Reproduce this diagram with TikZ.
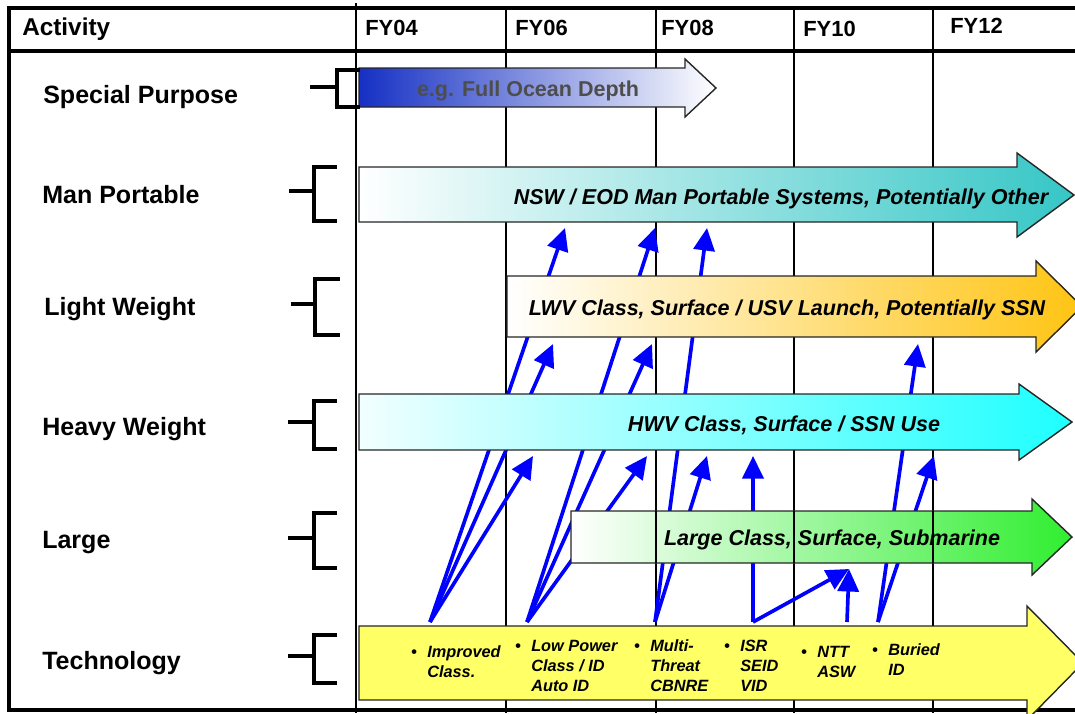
\documentclass[tikz,border=0pt]{standalone}
\usepackage{fontspec}
\setmainfont{Liberation Sans}
\usetikzlibrary{arrows.meta}
\definecolor{rblue}{HTML}{0000FF}
\definecolor{spblue}{HTML}{1530C4}
\definecolor{spgray}{HTML}{4D4D4D}
\definecolor{mpteal}{HTML}{36C6C6}
\definecolor{lwpeach}{HTML}{FCE7C4}
\definecolor{lwgold}{HTML}{FFC412}
\definecolor{hwcyan}{HTML}{1EFFFF}
\definecolor{lggreen}{HTML}{30EE30}
\definecolor{tcyellow}{HTML}{FFFF66}
\tikzset{
  gridln/.style={draw=black,line width=1.1pt},
  tblframe/.style={draw=black,line width=2.3pt},
  brk/.style={draw=black,line width=2.2pt},
  band/.style={draw=black!85,line width=1pt},
  link/.style={-{Triangle[length=16pt,width=15pt]},line width=2.6pt,draw=rblue},
  hdr/.style={font=\fontsize{15.6}{18}\selectfont\bfseries,anchor=base west,inner sep=0pt},
  rowlbl/.style={font=\fontsize{17.8}{20}\selectfont\bfseries,anchor=base west,inner sep=0pt},
  btxt/.style={font=\fontsize{15.3}{18}\selectfont\bfseries\itshape,anchor=base,inner sep=0pt},
  tech/.style={font=\fontsize{11.6}{13.9}\selectfont\bfseries\itshape,anchor=base west,inner sep=0pt,align=left},
}

\begin{document}
\begin{tikzpicture}[x=0.025cm,y=-0.025cm]
  \path[use as bounding box] (0,0) rectangle (1075,713);
  \clip (0,0) rectangle (1075,713);
  % grid and frame
  \draw[gridln] (356,3) -- (356,713);
  \foreach \x in {506,656,794,933} \draw[gridln] (\x,8) -- (\x,713);
  \draw[tblframe] (1080,8) -- (9,8) -- (9,710) -- (1080,710);
  \draw[tblframe] (9,51) -- (1080,51);
  \node[hdr,font=\fontsize{17.3}{20}\selectfont\bfseries] (hact) at (22,35) {Activity};
  \node[hdr] (h04) at (365,35) {FY04};
  \node[hdr] (h06) at (515,35) {FY06};
  \node[hdr] (h08) at (661,35) {FY08};
  \node[hdr] (h10) at (803,36) {FY10};
  \node[hdr] (h12) at (950,33) {FY12};
  \node[rowlbl] (rsp) at (43,103) {Special Purpose};
  \node[rowlbl] (rmp) at (42,203) {Man Portable};
  \node[rowlbl] (rlw) at (44,315) {Light Weight};
  \node[rowlbl] (rhw) at (42,435) {Heavy Weight};
  \node[rowlbl] (rlg) at (42,548) {Large};
  \node[rowlbl] (rtc) at (42,669) {Technology};
  % technology items feed the vehicle classes
  \coordinate (imp) at (430,622);
  \coordinate (lowp) at (527,622);
  \coordinate (mult) at (655,622);
  \coordinate (isr) at (753,622);
  \coordinate (ntt) at (847,622);
  \coordinate (bur) at (878,622);
  \coordinate (mp1) at (565,228); \coordinate (mp2) at (655,228); \coordinate (mp3) at (707,228);
  \coordinate (lw1) at (553,344); \coordinate (lw2) at (652,344); \coordinate (lw3) at (918,344);
  \coordinate (hw1) at (533,456); \coordinate (hw2) at (647,456); \coordinate (hw3) at (707,456);
  \coordinate (hw4) at (753,456); \coordinate (hw5) at (934,456);
  \coordinate (lg1) at (849,569);
  \draw[link] (imp) -- (mp1); \draw[link] (imp) -- (lw1); \draw[link] (imp) -- (hw1);
  \draw[link] (lowp) -- (mp2); \draw[link] (lowp) -- (lw2); \draw[link] (lowp) -- (hw2);
  \draw[link] (mult) -- (mp3); \draw[link] (mult) -- (hw3);
  \draw[link] (isr) -- (hw4); \draw[link] (isr) -- (lg1);
  \draw[link] (ntt) -- (lg1);
  \draw[link] (bur) -- (lw3); \draw[link] (bur) -- (hw5);
  % class arrows
  \draw[band,left color=spblue,middle color=spblue!40!white,right color=white]
    (359,68) -- (685,68) -- (685,59) -- (716,88) -- (685,117) -- (685,107) -- (359,107) -- cycle;
  \draw[band,left color=white,middle color=mpteal!40!white,right color=mpteal]
    (359,167) -- (1017,167) -- (1017,153) -- (1074,195) -- (1017,237) -- (1017,222) -- (359,222) -- cycle;
  \draw[band,left color=white,middle color=lwpeach,right color=lwgold]
    (507,276) -- (1036,276) -- (1036,261) -- (1082,306.5) -- (1036,352) -- (1036,337) -- (507,337) -- cycle;
  \draw[band,left color=hwcyan!6!white,middle color=hwcyan!40!white,right color=hwcyan]
    (359,394) -- (1019,394) -- (1019,384) -- (1072,422) -- (1019,460) -- (1019,450) -- (359,450) -- cycle;
  \draw[band,left color=white,middle color=lggreen!30!white,right color=lggreen]
    (571,511) -- (1032,511) -- (1032,499) -- (1072,537) -- (1032,575) -- (1032,563) -- (571,563) -- cycle;
  \foreach \x in {656,794,933} \draw[gridln] (\x,511) -- (\x,563);
  \draw[band,fill=tcyellow]
    (359,626) -- (1027,626) -- (1027,606) -- (1083,663) -- (1027,720) -- (1027,700) -- (359,700) -- cycle;
  % brackets
  \draw[brk] (310,87) -- (337,87) (360,70) -- (337,70) -- (337,107) -- (360,107);
  \draw[brk] (289,191) -- (314,191) (337,167) -- (314,167) -- (314,221) -- (337,221);
  \draw[brk] (291,304) -- (315,304) (340,279) -- (315,279) -- (315,335) -- (340,335);
  \draw[brk] (288,422) -- (314,422) (337,401) -- (314,401) -- (314,449) -- (337,449);
  \draw[brk] (288,538) -- (314,538) (337,513) -- (314,513) -- (314,568) -- (337,568);
  \draw[brk] (288,656) -- (314,656) (337,635) -- (314,635) -- (314,683) -- (337,683);
  % arrow texts
  \node[btxt,font=\fontsize{15.3}{18}\selectfont\bfseries,text=spgray] (tsp) at (528,96) {e.g. Full Ocean Depth};
  \node[btxt] (tmp) at (781,204) {NSW / EOD Man Portable Systems, Potentially Other};
  \node[btxt] (tlw) at (787,315) {LWV Class, Surface / USV Launch, Potentially SSN};
  \node[btxt] (thw) at (784,431) {HWV Class, Surface / SSN Use};
  \node[btxt] (tlg) at (832,545) {Large Class, Surface, Submarine};
  % base of a multi-line node sits on its last line
  \node[tech] (t1) at (427,677) {\llap{\textbullet\hspace{7.5pt}}Improved\\Class.};
  \node[tech] (t2) at (531,691) {\llap{\textbullet\hspace{7.5pt}}Low Power\\Class / ID\\Auto ID};
  \node[tech] (t3) at (650,691) {\llap{\textbullet\hspace{7.5pt}}Multi-\\Threat\\CBNRE};
  \node[tech] (t4) at (740,691) {\llap{\textbullet\hspace{7.5pt}}ISR\\SEID\\VID};
  \node[tech] (t5) at (817,677) {\llap{\textbullet\hspace{7.5pt}}NTT\\ASW};
  \node[tech] (t6) at (888,675) {\llap{\textbullet\hspace{7.5pt}}Buried\\ID};
\end{tikzpicture}
\end{document}
